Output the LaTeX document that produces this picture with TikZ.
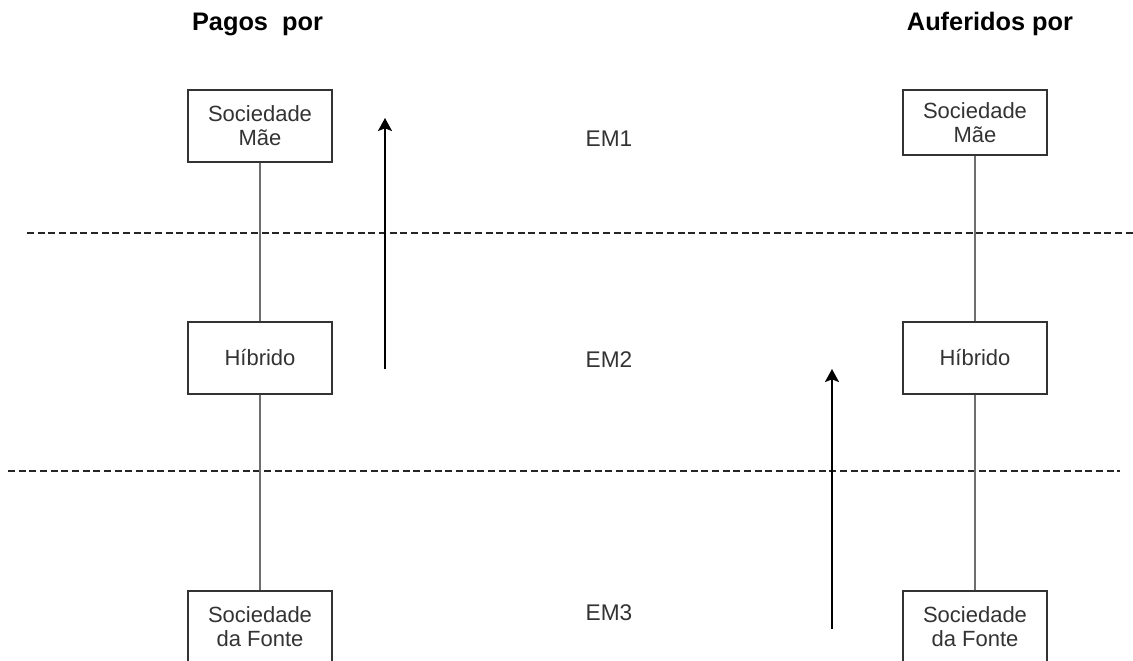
\documentclass[tikz,border=0pt]{standalone}
\usepackage{fontspec}
\setmainfont{Liberation Sans}
\usetikzlibrary{arrows.meta}
\usetikzlibrary{positioning}
\definecolor{txtgray}{RGB}{51,51,51}
\definecolor{linegray}{RGB}{110,110,110}

\begin{document}
\begin{tikzpicture}[x=0.75pt, y=-0.75pt,
    entity/.style={draw=txtgray, line width=1.5pt, fill=white, text=txtgray,
      minimum width=108pt, minimum height=54pt, inner sep=0pt, align=center,
      font=\fontsize{16.5}{18}\selectfont},
    head/.style={anchor=base, font=\fontsize{19}{22}\selectfont\bfseries},
    level/.style={anchor=base, text=txtgray, font=\fontsize{17}{20}\selectfont},
    link/.style={draw=linegray, line width=1.5pt},
    border/.style={draw=black!85, line width=1.1pt, dash pattern=on 5.25pt off 2.75pt},
    flow/.style={draw=black, line width=1.5pt, -{Stealth[length=9.75pt, width=10.5pt, inset=2pt]}}]
  \useasboundingbox (0, 0) rectangle (1133, 661);

  % limites entre os estados
  \coordinate (b1w) at (27, 233);
  \coordinate (b1e) at (1133, 233);
  \coordinate (b2w) at (8, 471);
  \coordinate (b2e) at (1120, 471);
  \draw[border] (b1w) -- (b1e);
  \draw[border] (b2w) -- (b2e);

  % titulos
  \node[head] (pagos)     at (257.5, 30) {Pagos\ \ por};
  \node[head] (auferidos) at (990, 30)   {Auferidos por};

  \node[level] (em1) at (609, 146.5) {EM1};
  \node[level] (em2) at (609, 367)   {EM2};
  \node[level] (em3) at (609, 620)   {EM3};

  % coluna esquerda
  \node[entity] (maeL)   at (260, 126) {Sociedade\\M\~ae};
  \node[entity] (hibL)   at (260, 358) {H\'ibrido};
  \node[entity] (fonteL) at (260, 627) {Sociedade\\da Fonte};
  \draw[link] (maeL) -- (hibL);
  \draw[link] (hibL) -- (fonteL);

  % coluna direita
  \node[entity, minimum height=48.75pt] (maeR) at (975, 122.5) {Sociedade\\M\~ae};
  \node[entity] (hibR)   at (975, 358) {H\'ibrido};
  \node[entity] (fonteR) at (975, 627) {Sociedade\\da Fonte};
  \draw[link] (maeR) -- (hibR);
  \draw[link] (hibR) -- (fonteR);

  % setas
  \coordinate (up1s) at (385, 369);
  \coordinate (up1e) at (385, 118);
  \coordinate (up2s) at (832, 629);
  \coordinate (up2e) at (832, 369);
  \draw[flow] (up1s) -- (up1e);
  \draw[flow] (up2s) -- (up2e);

\end{tikzpicture}
\end{document}
